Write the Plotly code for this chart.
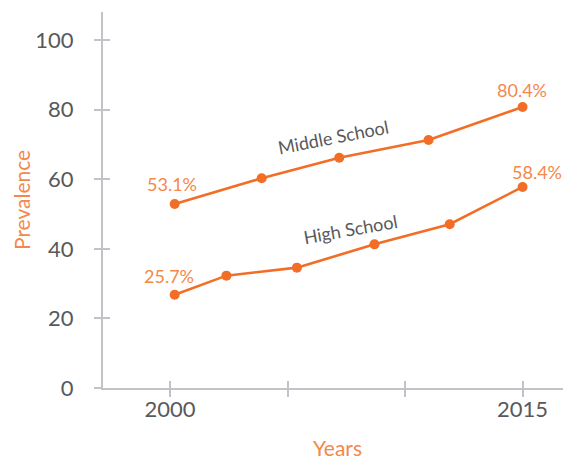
import plotly.graph_objects as go

# Data
middle_years = [2000.2, 2003.9, 2007.2, 2011.0, 2015.0]
middle_values = [52.9, 60.3, 66.2, 71.3, 80.8]
high_years = [2000.2, 2002.4, 2005.4, 2008.7, 2011.9, 2015.0]
high_values = [26.8, 32.3, 34.6, 41.3, 47.1, 57.8]

middle_end_labels = ["53.1%", "80.4%"]
high_end_labels = ["25.7%", "58.4%"]

x_tick_vals = [2000, 2005, 2010, 2015]
x_tick_text = ["2000", "", "", "2015"]
y_tick_vals = [0, 20, 40, 60, 80, 100]

LINE = "#F26E26"
LABEL = "#F5874A"
TEXT = "#58595B"
AXIS = "#C2C3C7"
FONT = "Lato"

x_range = [1997.15, 2017.06]
y_range = [0, 108.1]

fig = go.Figure()
for xs, ys, name in [(middle_years, middle_values, "Middle School"),
                     (high_years, high_values, "High School")]:
    fig.add_trace(go.Scatter(x=xs, y=ys, mode="lines+markers", name=name,
                             line=dict(color=LINE, width=2.6),
                             marker=dict(color=LINE, size=10),
                             showlegend=False, hoverinfo="skip"))

# invisible trace for the overlay axes (cross ticks)
fig.add_trace(go.Scatter(x=[x_range[0]], y=[y_range[0]], xaxis="x2", yaxis="y2",
                         mode="markers", marker=dict(opacity=0), showlegend=False,
                         hoverinfo="skip"))

ann = []
# end-point value labels
ann.append(dict(x=middle_years[0], y=middle_values[0], text=middle_end_labels[0],
                xshift=-3, yshift=20))
ann.append(dict(x=middle_years[-1], y=middle_values[-1], text=middle_end_labels[1],
                xshift=-1, yshift=17))
ann.append(dict(x=high_years[0], y=high_values[0], text=high_end_labels[0],
                xshift=-6, yshift=19))
ann.append(dict(x=high_years[-1], y=high_values[-1], text=high_end_labels[1],
                xshift=14, yshift=15))
for a in ann:
    a.update(xref="x", yref="y", showarrow=False, xanchor="center",
             yanchor="middle", font=dict(family=FONT, size=18, color=LABEL))

# series name labels
ann.append(dict(x=middle_years[2], y=middle_values[2], text="Middle School",
                xshift=-6, yshift=21, textangle=-11, xref="x", yref="y",
                showarrow=False, font=dict(family=FONT, size=18, color=TEXT)))
ann.append(dict(x=high_years[3], y=high_values[3], text="High School",
                xshift=-24, yshift=15, textangle=-10, xref="x", yref="y",
                showarrow=False, font=dict(family=FONT, size=18, color=TEXT)))

# axis titles
ann.append(dict(x=0, y=0.5, xref="paper", yref="paper", xshift=-82,
                xanchor="center", yanchor="middle",
                text="Prevalence", textangle=-90, showarrow=False,
                font=dict(family=FONT, size=21, color=LABEL)))
ann.append(dict(x=0.5, y=0, xref="paper", yref="paper", yshift=-59,
                xanchor="center", yanchor="middle",
                text="Years", showarrow=False,
                font=dict(family=FONT, size=21, color=LABEL)))

# the page body adds an 8px offset, so the figure is 8px smaller on each side
fig.update_layout(
    width=563, height=452,
    margin=dict(l=95, r=0, t=4, b=72),
    paper_bgcolor="white", plot_bgcolor="white",
    font=dict(family=FONT, color=TEXT),
    annotations=ann,
    xaxis=dict(range=x_range, tickvals=x_tick_vals, ticktext=x_tick_text,
               automargin=False,
               showgrid=False, zeroline=False, showline=True, linecolor=AXIS,
               linewidth=2, ticks="outside", ticklen=7, tickwidth=2,
               tickcolor=AXIS, tickfont=dict(family=FONT, size=22, color=TEXT),
               ticklabelstandoff=-6),
    yaxis=dict(range=y_range, tickvals=y_tick_vals, showgrid=False,
               automargin=False,
               zeroline=False, showline=True, linecolor=AXIS, linewidth=2,
               ticks="outside", ticklen=7, tickwidth=2, tickcolor=AXIS,
               tickfont=dict(family=FONT, size=22, color=TEXT),
               ticklabelstandoff=16),
    xaxis2=dict(range=x_range, overlaying="x", tickvals=x_tick_vals,
                automargin=False,
                showticklabels=False, showgrid=False, zeroline=False,
                showline=False, ticks="inside", ticklen=7, tickwidth=2,
                tickcolor=AXIS),
    yaxis2=dict(range=y_range, overlaying="y", tickvals=y_tick_vals,
                automargin=False,
                showticklabels=False, showgrid=False, zeroline=False,
                showline=False, ticks="inside", ticklen=7, tickwidth=2,
                tickcolor=AXIS),
)

fig.write_html("out.html")
